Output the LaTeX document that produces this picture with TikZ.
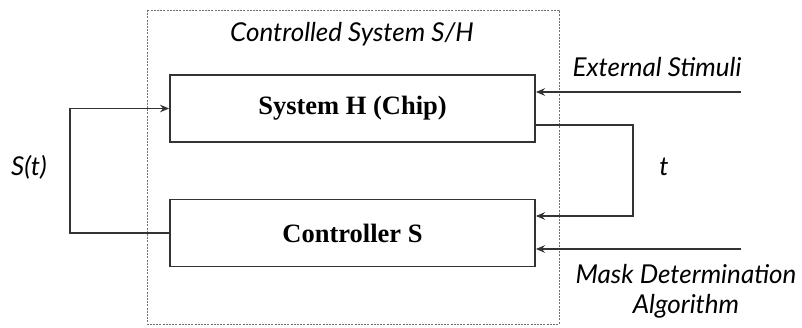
\documentclass[tikz,border=0pt]{standalone}
\usepackage{fontspec}
\setmainfont{Liberation Serif}
\newfontfamily\latoit{Lato Italic}
\usetikzlibrary{arrows.meta}
\definecolor{linegray}{HTML}{333333}
\tikzset{
  block/.style={draw=linegray, line width=1.8pt, minimum width=365pt, minimum height=67pt,
    inner sep=0pt, font=\fontsize{26.5}{32}\selectfont\bfseries},
  wire/.style={draw=linegray, line width=1.9pt},
  arr/.style={wire, -{Stealth[length=9pt,width=7.5pt]}},
  lbl/.style={font=\fontsize{26}{30}\selectfont\latoit, text=black, inner sep=0pt, align=center},
  frame/.style={draw=linegray!70, line width=0.7pt, dash pattern=on 2pt off 1.2pt}
}
\begin{document}
\begin{tikzpicture}[x=1pt,y=-1pt]
\useasboundingbox (0,0) rectangle (802,328);
% outer dashed frame of the controlled system
\draw[frame] (147,10) rectangle (559,324);
\node[lbl] (title) at (352,34) {Controlled System S/H};
% the two blocks
\node[block] (H) at (352.5,108.5) {System H (Chip)};
\node[block] (S) at (352.5,233) {Controller S};
% free ends of the incoming signals
\coordinate (ext) at (741,92);
\coordinate (mask) at (741,249);
\coordinate (loopL) at (70,0);
\coordinate (loopR) at (633,0);
% feedback S(t) from controller to system
\draw[arr] (S.west) -- (S.west -| loopL) -- (H.west -| loopL) -- (H.west);
% output t of the system to the controller
\draw[arr] ([yshift=-16.5pt]H.east) -- ([yshift=-16.5pt]H.east -| loopR)
  -- ([yshift=17pt]S.east -| loopR) -- ([yshift=17pt]S.east);
% external inputs
\draw[arr] (ext) -- (ext -| H.east);
\draw[arr] (mask) -- (mask -| S.east);
% labels
\node[lbl] (st) at (29,167) {S(t)};
\node[lbl] (t) at (664,167) {t};
\node[lbl] (extl) at (657,67) {External Stimuli};
\node[lbl] (maskl) at (686,291) {Mask Determination\\Algorithm};
\end{tikzpicture}
\end{document}
